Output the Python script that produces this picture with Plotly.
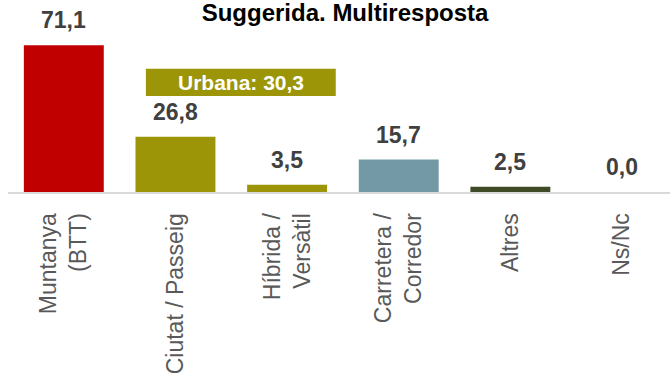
import plotly.graph_objects as go

# Bike types (suggested answer, multiple response)
categories = ["Muntanya<br>(BTT)", "Ciutat / Passeig", "Híbrida /<br>Versàtil",
              "Carretera /<br>Corredor", "Altres", "Ns/Nc"]
values = [71.1, 26.8, 3.5, 15.7, 2.5, 0.0]
bar_colors = ["#C00000", "#9C9508", "#9C9508", "#7499A6", "#3F4A27", "#7F7F7F"]

# "Urbana" groups city/leisure bikes and hybrid bikes
urbana_members = [1, 2]
urbana_total = sum(values[i] for i in urbana_members)


def fmt(v):
    return f"{v:.1f}".replace(".", ",")


FONT = "Arial, Liberation Sans, sans-serif"

fig = go.Figure()
fig.add_trace(go.Bar(
    x=list(range(len(categories))),
    y=values,
    marker=dict(color=bar_colors, line=dict(width=0)),
    width=0.716,
    hoverinfo="skip",
))

# value labels above each bar
for i, v in enumerate(values):
    fig.add_annotation(
        x=i, y=v, xref="x", yref="y",
        text=f"<b>{fmt(v)}</b>", showarrow=False,
        yanchor="bottom", yshift=10,
        font=dict(family=FONT, size=23, color="#404040"),
    )

# "Urbana" summary box over the city and hybrid bars
box_x0, box_x1 = 0.735, 2.436
box_y0, box_y1 = 46.5, 59.8
fig.add_shape(
    type="rect", xref="x", yref="y",
    x0=box_x0, x1=box_x1, y0=box_y0, y1=box_y1,
    fillcolor="#9C9508", line=dict(width=0), layer="above",
)
fig.add_annotation(
    x=(box_x0 + box_x1) / 2, y=(box_y0 + box_y1) / 2, xref="x", yref="y",
    text=f"<b>Urbana: {fmt(urbana_total)}</b>", showarrow=False,
    yanchor="middle", xanchor="center",
    font=dict(family=FONT, size=21, color="#FFFFFF"),
)

fig.update_layout(
    width=670, height=373,
    margin=dict(l=8, r=0, t=27, b=181, autoexpand=False),
    paper_bgcolor="white", plot_bgcolor="white",
    showlegend=False,
    title=dict(
        text="<b>Suggerida. Multiresposta</b>",
        x=0.515, xref="container", xanchor="center",
        y=1 - 13 / 373, yref="container", yanchor="middle",
        font=dict(family=FONT, size=24, color="#000000"),
    ),
    xaxis=dict(
        tickmode="array", tickvals=list(range(len(categories))), ticktext=categories,
        range=[-0.5, 5.43], tickangle=-90, automargin=False,
        showline=True, linecolor="#D9D9D9", linewidth=2,
        showgrid=False, zeroline=False, ticks="",
        ticklabelstandoff=10,
        tickfont=dict(family=FONT, size=23, color="#595959"),
    ),
    yaxis=dict(range=[0, 80], visible=False, showgrid=False, zeroline=False),
)

fig.write_html("out.html")
